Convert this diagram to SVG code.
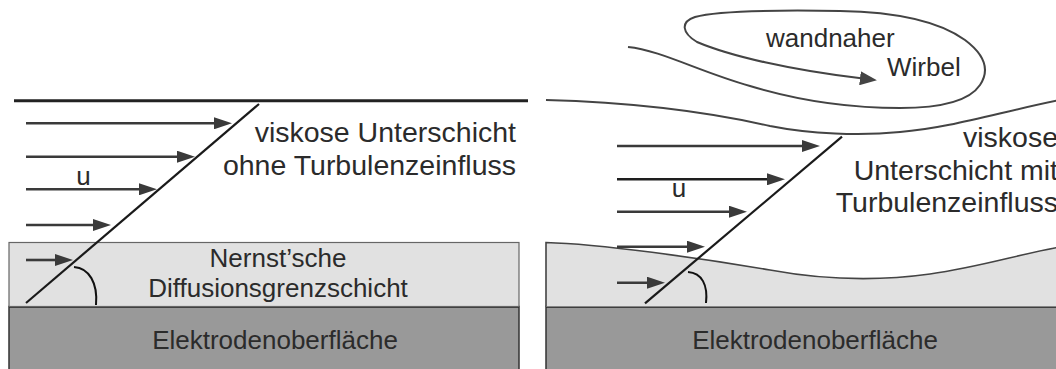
<svg xmlns="http://www.w3.org/2000/svg" width="1056" height="369" viewBox="0 0 1056 369">
  <style>
    .txt { font-family: "Liberation Sans", Arial, sans-serif; fill: #2b2b2b; }
    .big { font-size: 28.5px; }
    .mid { font-size: 26px; }
    .flow { stroke: #3a3a3a; stroke-width: 2.6; fill: none; marker-end: url(#head); }
    .profile { stroke: #1a1a1a; stroke-width: 2.2; fill: none; }
    .angle { stroke: #111; stroke-width: 2; fill: none; }
    .electrode { fill: #999999; stroke: #333; stroke-width: 1.5; }
    .diffusion { fill: #e1e1e1; stroke: #666; stroke-width: 1.2; }
  </style>
  <defs>
    <marker id="head" viewBox="0 0 18 12" markerWidth="18" markerHeight="12" refX="3" refY="6" markerUnits="userSpaceOnUse" orient="auto">
      <path d="M0,0 L18,6 L0,12 z" fill="#3a3a3a"/>
    </marker>
    <marker id="eddyhead" viewBox="0 0 17 14" markerWidth="17" markerHeight="14" refX="3" refY="7" markerUnits="userSpaceOnUse" orient="auto">
      <path d="M0,0 L17,7 L0,14 z" fill="#444"/>
    </marker>
  </defs>

  <rect width="1056" height="369" fill="#ffffff"/>

  <!-- Left: laminar case -->
  <g id="left-electrode">
    <rect class="electrode" x="9" y="306.5" width="510" height="70"/>
    <line x1="9" y1="306.5" x2="519" y2="306.5" stroke="#2a2a2a" stroke-width="2.4"/>
    <text class="txt mid" x="275" y="349" text-anchor="middle">Elektrodenoberfläche</text>
  </g>
  <g id="left-diffusion-layer">
    <rect class="diffusion" x="9" y="242.5" width="510" height="64"/>
    <text class="txt mid" x="278" y="267" text-anchor="middle">Nernst’sche</text>
    <text class="txt mid" x="278" y="297" text-anchor="middle">Diffusionsgrenzschicht</text>
  </g>
  <g id="left-boundary">
    <line x1="14" y1="100.7" x2="528" y2="100.7" stroke="#222" stroke-width="3"/>
  </g>
  <g id="left-label">
    <text class="txt big" x="516" y="142" text-anchor="end">viskose Unterschicht</text>
    <text class="txt big" x="516" y="175" text-anchor="end">ohne Turbulenzeinfluss</text>
    <text class="txt mid" x="83.5" y="185" text-anchor="middle">u</text>
  </g>

  <!-- Right: turbulent case -->
  <g id="right-electrode">
    <rect class="electrode" x="546" y="306.5" width="520" height="70"/>
    <line x1="546" y1="306.5" x2="1056" y2="306.5" stroke="#2a2a2a" stroke-width="2.4"/>
    <text class="txt mid" x="815" y="349" text-anchor="middle">Elektrodenoberfläche</text>
  </g>
  <g id="right-diffusion-layer">
    <path d="M546,306.5 L546,242.5 C600,244 700,258 770,270 C830,281 880,281 930,274 C980,267 1020,254 1060,247 L1060,306.5 z" fill="#e1e1e1" stroke="none"/>
    <path d="M546,306.5 L546,242.5 C600,244 700,258 770,270 C830,281 880,281 930,274 C980,267 1020,254 1060,247" fill="none" stroke="#444" stroke-width="1.6"/>
  </g>
  <g id="right-boundary">
    <path d="M546,100 C620,102 700,110 770,126 C810,134 860,136 900,132 C950,128 1000,112 1060,100" fill="none" stroke="#444" stroke-width="2"/>
  </g>
  <g id="eddy">
    <path d="M628,47 C660,50 700,72 750,86 C800,101 850,108 900,108 C945,108 970,100 980,85 C990,70 985,55 965,40 C940,22 900,12 840,11 C780,10 720,10 695,17 C680,22 682,33 697,42 C730,56 790,70 863,78.6" fill="none" stroke="#444" stroke-width="2" marker-end="url(#eddyhead)"/>
    <text class="txt mid" x="766" y="47">wandnaher</text>
    <text class="txt mid" x="887" y="76">Wirbel</text>
  </g>
  <g id="right-label">
    <text class="txt big" x="1058" y="147" text-anchor="end">viskose</text>
    <text class="txt big" x="1058" y="180" text-anchor="end">Unterschicht mit</text>
    <text class="txt big" x="1058" y="212" text-anchor="end">Turbulenzeinfluss</text>
    <text class="txt mid" x="679" y="197" text-anchor="middle">u</text>
  </g>

  <!-- Velocity profiles -->
  <g id="connectors">
    <line class="flow" x1="26" y1="123.3" x2="217" y2="123.3"/>
    <line class="flow" x1="26" y1="156.7" x2="180" y2="156.7"/>
    <line class="flow" x1="26" y1="189.3" x2="142" y2="189.3"/>
    <line class="flow" x1="26" y1="225" x2="96" y2="225"/>
    <line class="flow" x1="26" y1="260" x2="58" y2="260"/>
    <line class="profile" x1="26" y1="303" x2="259" y2="104"/>
    <path class="angle" d="M74,267 C89,268 98,283 96,305"/>

    <line class="flow" x1="617" y1="146" x2="805" y2="146"/>
    <line class="flow" x1="617" y1="179.3" x2="770" y2="179.3" style="stroke:#1e1e1e"/>
    <line class="flow" x1="617" y1="211.7" x2="732" y2="211.7"/>
    <line class="flow" x1="617" y1="246.7" x2="690" y2="246.7"/>
    <line class="flow" x1="617" y1="282.7" x2="650" y2="282.7"/>
    <line class="profile" x1="645" y1="303.3" x2="842" y2="136.7"/>
    <path class="angle" d="M688,272 C702,273 708,285 706,303"/>
  </g>
</svg>
